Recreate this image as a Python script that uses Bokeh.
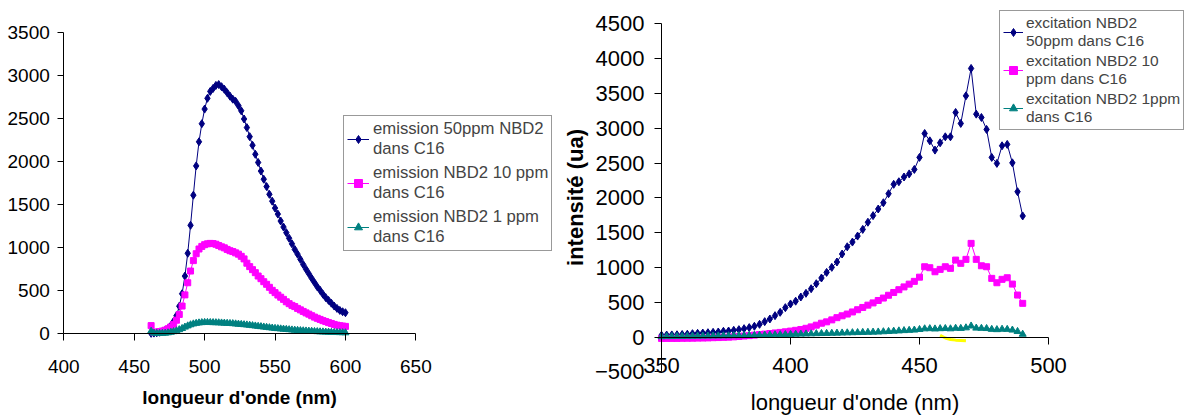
from bokeh.plotting import figure
from bokeh.models import Legend, LegendItem, LinearAxis, FixedTicker, Range1d
from bokeh.layouts import row
from bokeh.embed import file_html
from bokeh.resources import INLINE

FONT = "Liberation Sans"
NAVY = "#000080"
PINK = "#FF00FF"
TEAL = "#008080"

# ---------------- emission data (left chart) ----------------
em_wl = [462, 464, 466, 468, 470, 472, 474, 476, 478, 480, 482, 484, 486, 488, 490,
         492, 494, 496, 498, 500, 502, 504, 506, 508, 510, 512, 514, 516, 518, 520,
         522, 524, 526, 528, 530, 532, 534, 536, 538, 540, 542, 544, 546, 548, 550,
         552, 554, 556, 558, 560, 562, 564, 566, 568, 570, 572, 574, 576, 578, 580,
         582, 584, 586, 588, 590, 592, 594, 596, 598, 600]
em_50 = [5, 8, 12, 18, 28, 42, 62, 95, 145, 210, 320, 465, 670, 935, 1260,
         1610, 1950, 2230, 2440, 2610, 2735, 2815, 2850, 2885, 2895, 2870, 2840, 2800, 2760, 2725,
         2700, 2650, 2590, 2495, 2395, 2290, 2190, 2085, 1990, 1890, 1795, 1710, 1620, 1540, 1460,
         1390, 1310, 1240, 1175, 1110, 1045, 980, 925, 865, 805, 750, 698, 645, 595, 545,
         505, 460, 420, 388, 355, 322, 295, 272, 256, 245]
em_10 = [95, 18, 20, 25, 32, 42, 58, 80, 110, 158, 225, 322, 452, 593, 729,
         850, 930, 985, 1015, 1035, 1045, 1050, 1048, 1040, 1025, 1010, 998, 980, 965, 955,
         940, 925, 900, 870, 820, 780, 745, 710, 671, 640, 605, 575, 540, 505, 478,
         450, 425, 400, 372, 350, 330, 316, 295, 278, 260, 243, 228, 210, 194, 180,
         167, 153, 142, 130, 120, 109, 100, 94, 90, 86]
em_1 = [30, 8, 5, 5, 6, 8, 12, 18, 25, 35, 48, 62, 78, 92, 105,
        115, 122, 127, 130, 132, 132, 131, 130, 129, 128, 126, 124, 122, 120, 118,
        115, 112, 109, 106, 103, 99, 95, 91, 87, 83, 79, 75, 71, 67, 63,
        60, 57, 54, 51, 48, 45, 42, 40, 37, 35, 33, 31, 29, 27, 25,
        23, 22, 20, 19, 17, 16, 15, 14, 13, 12]

# ---------------- excitation data (right chart) ----------------
ex_wl = [350, 352, 354, 356, 358, 360, 362, 364, 366, 368, 370, 372, 374, 376, 378,
         380, 382, 384, 386, 388, 390, 392, 394, 396, 398, 400, 402, 404, 406, 408,
         410, 412, 414, 416, 418, 420, 422, 424, 426, 428, 430, 432, 434, 436, 438,
         440, 442, 444, 446, 448, 450, 452, 454, 456, 458, 460, 462, 464, 466, 468,
         470, 472, 474, 476, 478, 480, 482, 484, 486, 488, 490]
ex_50 = [25, 28, 30, 32, 36, 40, 48, 53, 57, 62, 67, 72, 82, 86, 96,
         106, 120, 135, 154, 182, 221, 259, 307, 355, 422, 475, 515, 575, 628, 694,
         766, 848, 929, 1001, 1078, 1193, 1297, 1365, 1451, 1547, 1650, 1745, 1840, 1930, 2060,
         2195, 2232, 2300, 2345, 2409, 2582, 2926, 2820, 2687, 2792, 2878, 2878, 3228, 3070, 3467,
         3861, 3204, 3156, 2984, 2582, 2496, 2749, 2769, 2504, 2089, 1740]
ex_10 = [-20, -20, -20, -20, -19, -18, -17, -16, -15, -13, -10, -8, -5, -2, 2,
         8, 14, 20, 27, 35, 42, 50, 58, 66, 75, 85, 96, 108, 125, 145,
         170, 198, 218, 246, 278, 305, 330, 360, 392, 425, 458, 490, 525, 560, 600,
         640, 680, 720, 760, 800, 860, 1010, 996, 938, 972, 1010, 987, 1106, 1059, 1116,
         1346, 1116, 1024, 1010, 843, 780, 829, 852, 761, 603, 484]
ex_1 = [5, 6, 7, 8, 9, 10, 11, 12, 13, 14, 15, 16, 17, 18, 19,
        20, 21, 22, 24, 26, 28, 30, 32, 34, 36, 38, 40, 42, 44, 46,
        48, 50, 52, 54, 56, 58, 60, 62, 64, 66, 68, 70, 72, 76, 80,
        84, 88, 92, 96, 100, 108, 118, 120, 116, 120, 122, 118, 126, 124, 132,
        158, 128, 125, 122, 110, 106, 112, 110, 100, 80, 40]
extra_wl = [458, 460, 462, 464, 466, 468]
extra_val = [25, -15, -35, -45, -50, -55]

# ---------------- axes ticks / labels ----------------
em_xticks = [400, 450, 500, 550, 600, 650]
em_yticks = [0, 500, 1000, 1500, 2000, 2500, 3000, 3500]
ex_xticks = [350, 400, 450, 500]
ex_yticks = [-500, 0, 500, 1000, 1500, 2000, 2500, 3000, 3500, 4000, 4500]

em_labels = ["emission 50ppm NBD2\ndans C16", "emission NBD2 10 ppm\ndans C16",
             "emission NBD2 1 ppm\ndans C16"]
ex_labels = ["excitation NBD2\n50ppm dans C16", "excitation NBD2 10\nppm dans C16",
             "excitation NBD2 1ppm\ndans C16"]
x_title = "longueur d'onde (nm)"
y_title = "intensité (ua)"


def make_axis(fixed, size, ticks, bounds):
    ax = LinearAxis(fixed_location=fixed)
    ax.ticker = FixedTicker(ticks=ticks)
    ax.bounds = bounds
    ax.minor_tick_line_color = None
    ax.axis_line_color = "black"
    ax.major_tick_line_color = "black"
    ax.major_tick_in = 0
    ax.major_tick_out = 7
    ax.major_label_text_font = FONT
    ax.major_label_text_font_size = size
    ax.major_label_text_color = "black"
    ax.axis_label_text_font = FONT
    ax.axis_label_text_color = "black"
    return ax


def add_series(p, xs, ys, color, marker, size):
    rl = p.line(xs, ys, line_color=color, line_width=1)
    rm = p.scatter(xs, ys, marker=marker, size=size, fill_color=color, line_color=color)
    return [rl, rm]


def bare_figure(width, xr, yr):
    p = figure(width=width, height=416, x_range=Range1d(*xr), y_range=Range1d(*yr),
               output_backend="svg", toolbar_location=None,
               x_axis_location=None, y_axis_location=None,
               min_border_left=0, min_border_right=0, min_border_top=0, min_border_bottom=0)
    p.grid.grid_line_color = None
    p.outline_line_color = None
    return p


# ---------------- left chart ----------------
# the plot area spans the whole canvas; axes are pinned at their crossing values
p1 = bare_figure(560, (355.05, 752.7), (-960.5, 3871))

yl = make_axis(400, "19px", em_yticks, (0, 3500))
yl.major_tick_out = 6
yl.major_label_standoff = 8
p1.add_layout(yl, "left")

xl = make_axis(0, "19px", em_xticks, (400, 650))
xl.major_label_standoff = 19
xl.axis_label = x_title
xl.axis_label_text_font_style = "bold"
xl.axis_label_text_font_size = "19px"
xl.axis_label_standoff = 11
p1.add_layout(xl, "below")

r_a = add_series(p1, em_wl, em_50, NAVY, "diamond", 8)
r_b = add_series(p1, em_wl, em_10, PINK, "square", 6)
r_c = add_series(p1, em_wl, em_1, TEAL, "triangle", 7)

leg1 = Legend(items=[LegendItem(label=em_labels[0], renderers=r_a),
                     LegendItem(label=em_labels[1], renderers=r_b),
                     LegendItem(label=em_labels[2], renderers=r_c)],
              location=(343, 165), orientation="vertical",
              label_text_font=FONT, label_text_font_size="16.7px", label_text_line_height=1.1,
              glyph_width=22, label_standoff=4, padding=3, spacing=4, margin=0,
              border_line_color="#333333", border_line_width=1,
              background_fill_color="white", background_fill_alpha=1)
p1.add_layout(leg1)

# ---------------- right chart ----------------
p2 = bare_figure(630, (310.85, 555.04), (-1142.9, 4837.6))

yr = make_axis(350, "22px", ex_yticks, (-500, 4500))
yr.major_label_standoff = 10
yr.axis_label = y_title
yr.axis_label_text_font_style = "bold"
yr.axis_label_text_font_size = "22px"
yr.axis_label_standoff = 4
p2.add_layout(yr, "left")

# axis line and ticks crossing at y = 0
x0 = make_axis(0, "1px", ex_xticks, (350, 500))
x0.major_label_text_alpha = 0
p2.add_layout(x0, "below")

# tick labels and title at the bottom of the plot area (y = -500)
xb = make_axis(-500, "22px", ex_xticks, (350, 500))
xb.axis_line_color = None
xb.major_tick_line_color = None
xb.major_tick_out = 0
xb.major_label_standoff = -14
xb.axis_label = x_title
xb.axis_label_text_font_style = "normal"
xb.axis_label_text_font_size = "22px"
xb.axis_label_standoff = 14
p2.add_layout(xb, "below")

s_a = add_series(p2, ex_wl, ex_50, NAVY, "diamond", 8)
s_b = add_series(p2, ex_wl, ex_10, PINK, "square", 6)
s_c = add_series(p2, ex_wl, ex_1, TEAL, "triangle", 7)
p2.line(extra_wl, extra_val, line_color="#FFFF00", line_width=3)

leg2 = Legend(items=[LegendItem(label=ex_labels[0], renderers=s_a),
                     LegendItem(label=ex_labels[1], renderers=s_b),
                     LegendItem(label=ex_labels[2], renderers=s_c)],
              location=(439, 286), orientation="vertical",
              label_text_font=FONT, label_text_font_size="15.5px", label_text_line_height=1.18,
              glyph_width=20, label_standoff=3, padding=3, spacing=2, margin=0,
              border_line_color="#333333", border_line_width=1,
              background_fill_color="white", background_fill_alpha=1)
p2.add_layout(leg2)

layout = row(p1, p2)
open("out.html", "w").write(file_html(layout, INLINE))
